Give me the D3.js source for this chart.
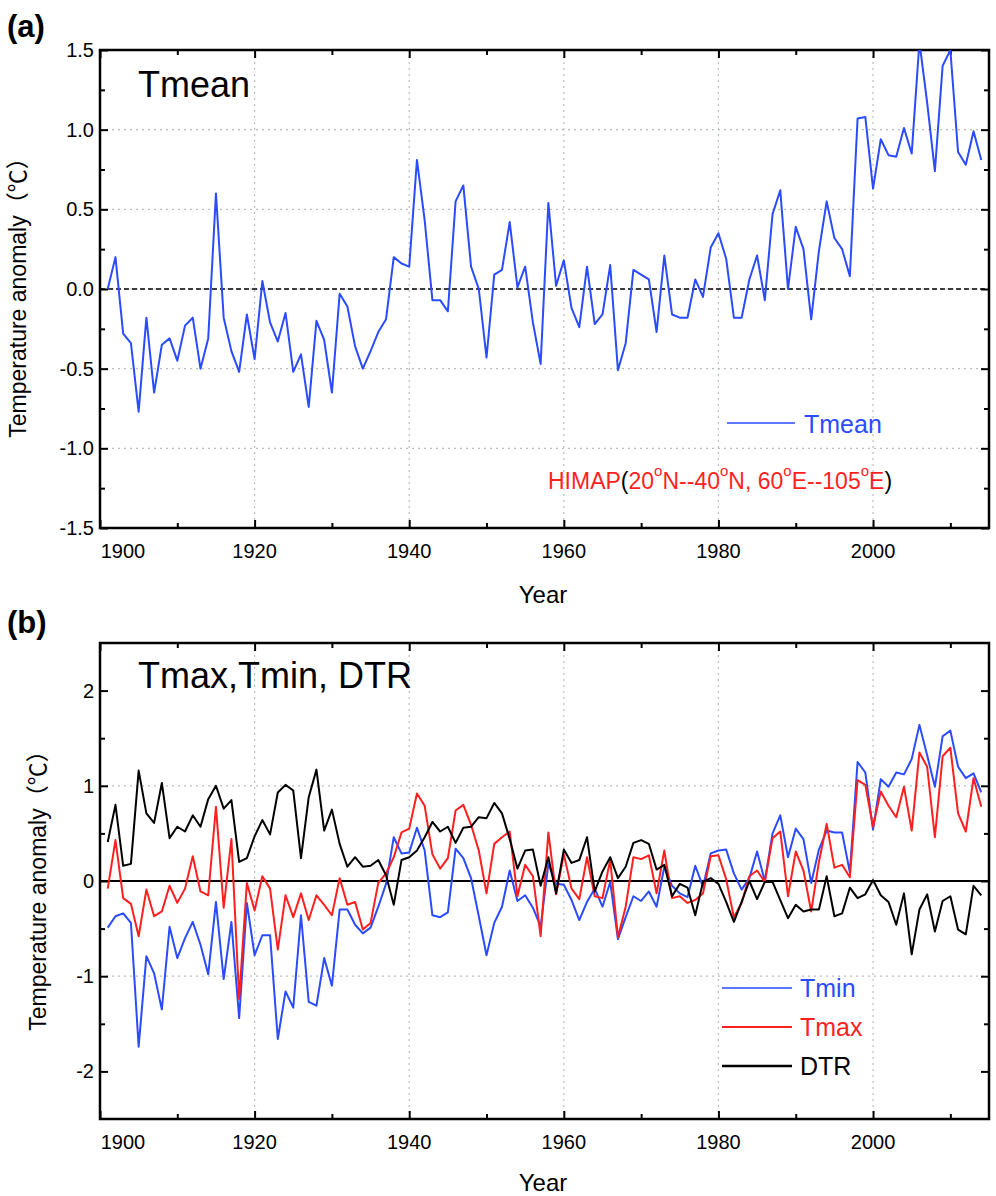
<!DOCTYPE html>
<html lang="en">
<head>
<meta charset="utf-8" />
<title>Temperature anomaly HIMAP</title>
<style>
html, body { margin: 0; padding: 0; background: #fff; }
svg { display: block; }
text { font-family: "Liberation Sans", Arial, "Noto Sans CJK SC", sans-serif; fill: #000; }
.grid line { stroke: #b8bfbf; stroke-width: 1.2; stroke-dasharray: 2,4; }
</style>
</head>
<body>
<svg width="996" height="1196"></svg>

<script src="https://cdn.jsdelivr.net/npm/d3@7/dist/d3.min.js"></script>
<script>
// years 1901-2014
var years = d3.range(1901, 2015);

// panel (a) Tmean anomaly
var tmean = [
 0.00, 0.20,-0.28,-0.34,-0.77,-0.18,-0.65,-0.35,-0.31,-0.45,
-0.23,-0.18,-0.50,-0.31, 0.60,-0.18,-0.39,-0.52,-0.16,-0.44,
 0.05,-0.21,-0.33,-0.15,-0.52,-0.41,-0.74,-0.20,-0.32,-0.65,
-0.03,-0.11,-0.36,-0.50,-0.39,-0.27,-0.19, 0.20, 0.16, 0.14,
 0.81, 0.43,-0.07,-0.07,-0.14, 0.55, 0.65, 0.14, 0.00,-0.43,
 0.09, 0.12, 0.42, 0.01, 0.14,-0.21,-0.47, 0.54, 0.02, 0.18,
-0.12,-0.24, 0.14,-0.22,-0.16, 0.15,-0.51,-0.34, 0.12, 0.09,
 0.06,-0.27, 0.21,-0.16,-0.18,-0.18, 0.06,-0.05, 0.26, 0.35,
 0.19,-0.18,-0.18, 0.06, 0.21,-0.07, 0.47, 0.62, 0.00, 0.39,
 0.25,-0.19, 0.24, 0.55, 0.32, 0.25, 0.08, 1.07, 1.08, 0.63,
 0.94, 0.84, 0.83, 1.01, 0.85, 1.55, 1.17, 0.74, 1.40, 1.50,
 0.86, 0.78, 0.99, 0.81
];

// panel (b)
var tmin = [
-0.49,-0.37,-0.34,-0.44,-1.74,-0.79,-0.97,-1.35,-0.48,-0.81,
-0.60,-0.43,-0.67,-0.98,-0.22,-1.03,-0.43,-1.44,-0.23,-0.78,
-0.57,-0.57,-1.66,-1.16,-1.33,-0.36,-1.27,-1.31,-0.81,-1.10,
-0.30,-0.30,-0.46,-0.55,-0.49,-0.27,-0.03, 0.46, 0.29, 0.30,
 0.56, 0.32,-0.36,-0.38,-0.33, 0.34, 0.24, 0.03,-0.37,-0.78,
-0.44,-0.27, 0.11,-0.21,-0.15,-0.28,-0.48, 0.18,-0.03,-0.04,
-0.20,-0.41,-0.22,-0.08,-0.27,-0.01,-0.61,-0.38,-0.16,-0.21,
-0.11,-0.27, 0.15,-0.05,-0.13,-0.17, 0.16,-0.06, 0.29, 0.32,
 0.33, 0.08,-0.09, 0.03, 0.31, 0.00, 0.50, 0.69, 0.25, 0.55,
 0.44,-0.02, 0.33, 0.53, 0.51, 0.51, 0.09, 1.25, 1.14, 0.54,
 1.07, 0.99, 1.14, 1.12, 1.28, 1.64, 1.32, 0.99, 1.52, 1.58,
 1.20, 1.08, 1.13, 0.93
];

var tmax = [
-0.08, 0.43,-0.18,-0.24,-0.58,-0.09,-0.37,-0.32,-0.05,-0.23,
-0.08, 0.26,-0.11,-0.15, 0.78,-0.28, 0.44,-1.24,-0.02,-0.31,
 0.05,-0.08,-0.72,-0.15,-0.38,-0.13,-0.41,-0.15,-0.25,-0.36,
 0.03,-0.25,-0.22,-0.51,-0.44,-0.02, 0.08, 0.25, 0.51, 0.55,
 0.92, 0.79, 0.28, 0.13, 0.24, 0.74, 0.80, 0.59, 0.32,-0.13,
 0.39, 0.46, 0.52,-0.16, 0.17, 0.05,-0.58, 0.51,-0.14, 0.28,
-0.08,-0.19, 0.25,-0.16,-0.18, 0.22,-0.59,-0.27, 0.25, 0.23,
 0.27,-0.13, 0.32,-0.18,-0.16,-0.23,-0.20,-0.13, 0.26, 0.27,
 0.02,-0.38,-0.23, 0.05, 0.11,-0.01, 0.45, 0.52,-0.16, 0.31,
 0.11,-0.32, 0.20, 0.60, 0.14, 0.17, 0.04, 1.06, 1.01, 0.57,
 0.94, 0.79, 0.67, 0.99, 0.53, 1.35, 1.20, 0.46, 1.31, 1.40,
 0.71, 0.52, 1.08, 0.78
];

var dtr = [
 0.41, 0.80, 0.16, 0.18, 1.16, 0.71, 0.61, 1.03, 0.45, 0.57,
 0.52, 0.69, 0.57, 0.86, 1.00, 0.76, 0.85, 0.20, 0.24, 0.47,
 0.64, 0.49, 0.93, 1.01, 0.95, 0.24, 0.88, 1.17, 0.53, 0.75,
 0.39, 0.15, 0.25, 0.15, 0.16, 0.22, 0.06,-0.25, 0.22, 0.25,
 0.32, 0.46, 0.62, 0.52, 0.57, 0.40, 0.56, 0.57, 0.67, 0.66,
 0.82, 0.71, 0.44, 0.13, 0.32, 0.33,-0.05, 0.25,-0.13, 0.33,
 0.19, 0.22, 0.46,-0.11, 0.10, 0.25, 0.03, 0.15, 0.40, 0.43,
 0.39, 0.12, 0.17,-0.16,-0.03,-0.07,-0.36,-0.01, 0.03,-0.03,
-0.22,-0.43,-0.22, 0.00,-0.19,-0.01,-0.01,-0.20,-0.39,-0.25,
-0.32,-0.30,-0.30, 0.05,-0.37,-0.34,-0.07,-0.18,-0.14, 0.01,
-0.15,-0.22,-0.46,-0.13,-0.77,-0.30,-0.14,-0.53,-0.21,-0.16,
-0.51,-0.56,-0.05,-0.15
];

var xTicks = [1900, 1920, 1940, 1960, 1980, 2000];
var yTicksA = [-1.5, -1.0, -0.5, 0, 0.5, 1.0, 1.5];
var yTicksB = [-2, -1, 0, 1, 2];

var BLUE = "#2b4bff", RED = "#ff1f1f";

var svg = d3.select("svg");
var left = 100, right = 989;

var x = d3.scaleLinear().domain([1900, 2015]).range([left, right]);

function panel(top, bottom, ydom, yTicks, yMinor, fmt, id) {
	var y = d3.scaleLinear().domain(ydom).range([bottom, top]);
	var g = svg.append("g");

	g.append("clipPath").attr("id", id).append("rect")
		.attr("x", left).attr("y", top).attr("width", right - left).attr("height", bottom - top);

	// grid
	var grid = g.append("g").attr("class", "grid");
	grid.selectAll(".gx").data(xTicks.slice(1)).enter().append("line")
		.attr("x1", x).attr("x2", x).attr("y1", top).attr("y2", bottom);
	grid.selectAll(".gy").data(yTicks.slice(1, -1)).enter().append("line")
		.attr("x1", left).attr("x2", right).attr("y1", y).attr("y2", y);

	// ticks, inward, all four sides
	var xMinor = d3.range(1910, 2015, 20);
	var bAx = d3.axisBottom(x).tickValues(xTicks).tickSize(-8).tickFormat("");
	var bAxm = d3.axisBottom(x).tickValues(xMinor).tickSize(-5).tickFormat("");
	var tAx = d3.axisTop(x).tickValues(xTicks).tickSize(-8).tickFormat("");
	var tAxm = d3.axisTop(x).tickValues(xMinor).tickSize(-5).tickFormat("");
	var lAx = d3.axisLeft(y).tickValues(yTicks).tickSize(-8).tickFormat("");
	var lAxm = d3.axisLeft(y).tickValues(yMinor).tickSize(-5).tickFormat("");
	var rAx = d3.axisRight(y).tickValues(yTicks).tickSize(-8).tickFormat("");
	var rAxm = d3.axisRight(y).tickValues(yMinor).tickSize(-5).tickFormat("");
	[[bAx, 0, bottom], [bAxm, 0, bottom], [tAx, 0, top], [tAxm, 0, top],
	 [lAx, left, 0], [lAxm, left, 0], [rAx, right, 0], [rAxm, right, 0]].forEach(function(a){
		var ax = g.append("g").attr("transform", "translate(" + a[1] + "," + a[2] + ")").call(a[0]);
		ax.select(".domain").remove();
		ax.selectAll("line").attr("stroke", "#000").attr("stroke-width", 2);
	});

	// tick labels
	g.selectAll(".xl").data(xTicks).enter().append("text")
		.attr("x", function(d){ return d === 1900 ? x(d) + 23 : x(d); })
		.attr("y", bottom + 30)
		.attr("text-anchor", "middle").style("font-size", "20px")
		.text(function(d){ return d; });
	g.selectAll(".yl").data(yTicks).enter().append("text")
		.attr("x", left - 6).attr("y", function(d){ return y(d) + 7; })
		.attr("text-anchor", "end").style("font-size", "20px")
		.text(function(d){ return fmt(d).replace("\u2212", "-"); });

	// frame
	g.append("rect").attr("x", left).attr("y", top).attr("width", right - left).attr("height", bottom - top)
		.attr("fill", "none").attr("stroke", "#000").attr("stroke-width", 2.5);

	return { g: g, y: y };
}

function drawLine(p, vals, color, id, w) {
	var line = d3.line().x(function(d, i){ return x(years[i]); }).y(function(d){ return p.y(d); });
	p.g.append("path").datum(vals)
		.attr("clip-path", "url(#" + id + ")")
		.attr("d", line).attr("fill", "none")
		.attr("stroke", color).attr("stroke-width", w || 2)
		.attr("stroke-linejoin", "round");
}

// ---------- panel (a)
var pa = panel(50, 528, [-1.5, 1.5], yTicksA, d3.range(-1.25, 1.5, 0.5), d3.format(".1f"), "clipa");
pa.g.append("line").attr("x1", left).attr("x2", right).attr("y1", pa.y(0)).attr("y2", pa.y(0))
	.attr("stroke", "#000").attr("stroke-width", 1.5).attr("stroke-dasharray", "5,3");
drawLine(pa, tmean, BLUE, "clipa", 2);

svg.append("text").attr("x", 7).attr("y", 37).style("font-size", "31px").style("font-weight", "bold").text("(a)");
svg.append("text").attr("x", 138).attr("y", 97).style("font-size", "36px").text("Tmean");
svg.append("text").attr("x", 543).attr("y", 603).attr("text-anchor", "middle").style("font-size", "24px").text("Year");
svg.append("text").attr("transform", "translate(26,292) rotate(-90)").attr("text-anchor", "middle")
	.style("font-size", "23px").text("Temperature anomaly（℃）");

// legend (a)
pa.g.append("line").attr("x1", 727).attr("x2", 795).attr("y1", 423).attr("y2", 423)
	.attr("stroke", BLUE).attr("stroke-width", 1.5);
pa.g.append("text").attr("x", 804).attr("y", 433).style("font-size", "25px").style("fill", BLUE).text("Tmean");

var him = pa.g.append("text").attr("x", 548).attr("y", 489).style("font-size", "23px").style("fill", RED);
him.append("tspan").text("HIMAP");
him.append("tspan").style("fill", "#000").text("(");
[["20", "N--"], ["40", "N, "], ["60", "E--"], ["105", "E"]].forEach(function(p){
	him.append("tspan").text(p[0]);
	him.append("tspan").attr("dy", -13).style("font-size", "15px").text("o");
	him.append("tspan").attr("dy", 13).text(p[1]);
});
him.append("tspan").style("fill", "#000").text(")");

// ---------- panel (b)
var pb = panel(643, 1119, [-2.5, 2.5], yTicksB, d3.range(-1.5, 2.5, 1), d3.format("d"), "clipb");
pb.g.append("line").attr("x1", left).attr("x2", right).attr("y1", pb.y(0)).attr("y2", pb.y(0))
	.attr("stroke", "#000").attr("stroke-width", 2.2);
drawLine(pb, tmin, BLUE, "clipb", 2);
drawLine(pb, tmax, RED, "clipb", 2);
drawLine(pb, dtr, "#000", "clipb", 2);

svg.append("text").attr("x", 7).attr("y", 633).style("font-size", "31px").style("font-weight", "bold").text("(b)");
svg.append("text").attr("x", 138).attr("y", 688).style("font-size", "36px").text("Tmax,Tmin, DTR");
svg.append("text").attr("x", 543).attr("y", 1191).attr("text-anchor", "middle").style("font-size", "24px").text("Year");
svg.append("text").attr("transform", "translate(46,885) rotate(-90)").attr("text-anchor", "middle")
	.style("font-size", "23px").text("Temperature anomaly（℃）");

// legend (b)
var legB = [["Tmin", BLUE, 1.5], ["Tmax", RED, 2], ["DTR", "#000", 2.5]];
legB.forEach(function(d, i){
	var yy = 988 + i * 39;
	pb.g.append("line").attr("x1", 722).attr("x2", 792).attr("y1", yy).attr("y2", yy)
		.attr("stroke", d[1]).attr("stroke-width", d[2]);
	pb.g.append("text").attr("x", 800).attr("y", yy + 9).style("font-size", "25px").style("fill", d[1]).text(d[0]);
});
</script>
</body>
</html>
